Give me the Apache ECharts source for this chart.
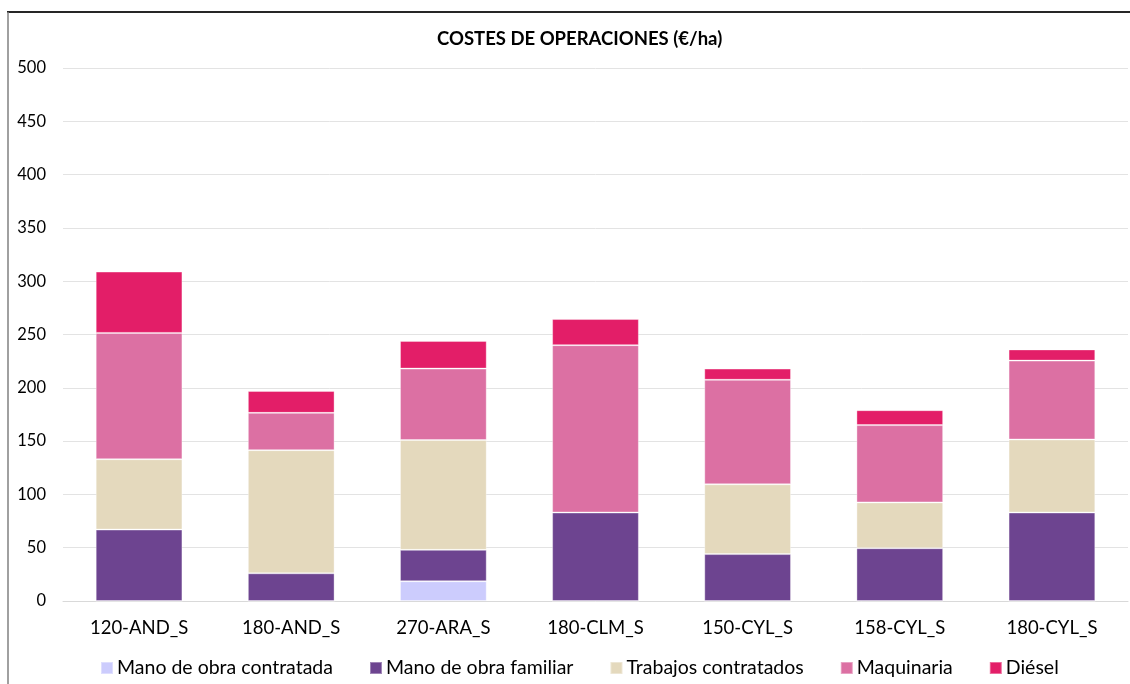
<!DOCTYPE html>
<html>
<head>
<meta charset="utf-8">
<script src="https://cdn.jsdelivr.net/npm/echarts@6/dist/echarts.min.js"></script>
<style>
html,body{margin:0;padding:0;background:#fff;}
#c{width:1130px;height:684px;}
</style>
</head>
<body>
<div id="c"></div>
<script>
const categories = ['120-AND_S','180-AND_S','270-ARA_S','180-CLM_S','150-CYL_S','158-CYL_S','180-CYL_S'];
const manoContratada = [0, 0, 18.5, 0, 0, 0, 0];
const manoFamiliar = [67, 26, 29.5, 83, 44, 49.5, 83];
const trabajosContratados = [66, 115.5, 103, 0, 65.5, 43, 68.5];
const maquinaria = [118.5, 35, 67, 157, 98, 72.5, 74];
const diesel = [57.5, 20.5, 26, 24.5, 10.5, 14, 10.5];
const yTicks = [0, 50, 100, 150, 200, 250, 300, 350, 400, 450, 500];

const seriesDefs = [
  {name:'Mano de obra contratada', data: manoContratada, color:'#ccccfd'},
  {name:'Mano de obra familiar', data: manoFamiliar, color:'#6d4490'},
  {name:'Trabajos contratados', data: trabajosContratados, color:'#e4d9bd'},
  {name:'Maquinaria', data: maquinaria, color:'#dc70a3'},
  {name:'Diésel', data: diesel, color:'#e31e68'}
];

const chart = echarts.init(document.getElementById('c'), null, {renderer:'canvas'});
const font = 'Lato, "Open Sans", sans-serif';
chart.setOption({
  animation:false,
  textStyle:{fontFamily:font},
  title:{
    text:'COSTES DE OPERACIONES (€/ha)',
    left:432, top:25,
    textStyle:{fontFamily:font, fontSize:18.5, fontWeight:'bold', color:'#000'}
  },
  legend:{
    left:95, top:653,
    itemWidth:12, itemHeight:12, itemGap:36,
    icon:'rect',
    textStyle:{fontFamily:font, fontSize:19.5, color:'#000', padding:[0,0,0,-1]},
    data: seriesDefs.map(s=>s.name)
  },
  grid:{left:63, right:2, top:68, bottom:83, containLabel:false},
  xAxis:{
    type:'category',
    data:categories,
    axisTick:{show:false},
    axisLine:{show:true, lineStyle:{color:'#d9d9d9', width:1}},
    axisLabel:{fontFamily:font, fontSize:18.5, color:'#000', margin:18}
  },
  yAxis:{
    type:'value',
    min:0, max:500, interval:50,
    axisLine:{show:false},
    axisTick:{show:false},
    splitLine:{lineStyle:{color:'#e3e3e3', width:1}},
    axisLabel:{fontFamily:font, fontSize:16.5, color:'#000', margin:17,
      formatter: v => yTicks.includes(v) ? String(v) : ''}
  },
  series: seriesDefs.map(s=>({
    name:s.name,
    type:'bar',
    stack:'total',
    barWidth:'57%',
    data:s.data,
    itemStyle:{color:s.color, borderColor:'rgba(255,255,255,0.35)', borderWidth:1},
    emphasis:{disabled:true}
  })),
  graphic:[
    {type:'line', shape:{x1:7, y1:12, x2:1130, y2:12}, style:{stroke:'#262626', lineWidth:2}, silent:true},
    {type:'line', shape:{x1:8, y1:12, x2:8, y2:684}, style:{stroke:'#808080', lineWidth:1.5}, silent:true}
  ]
});
</script>
</body>
</html>
